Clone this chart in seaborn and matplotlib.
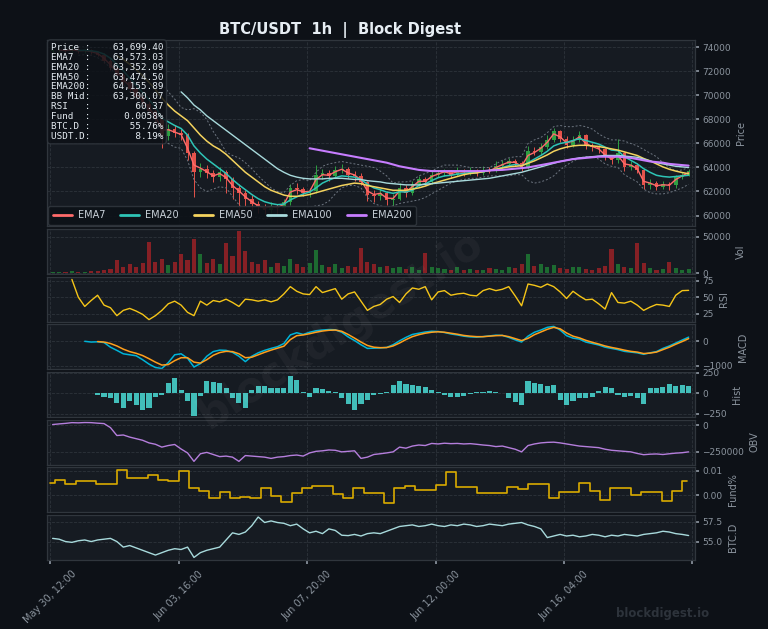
import numpy as np
import pandas as pd
import seaborn as sns
import matplotlib.pyplot as plt
from matplotlib.lines import Line2D

nan = np.nan

# one bar = 5 hourly candles, x in hours since May 30 12:00
close = [73750, 73820, 73700, 73850, 73680, 73760, 73600, 73400, 72900, 72300,
         71700, 71100, 70500, 69900, 69300, 68700, 68000, 66600, 67200, 66900,
         66700, 65200, 63600, 63900, 63500, 63200, 63600, 63000, 62300, 61900,
         61400, 61000, 60700, 60500, 60800, 60600, 61100, 62300, 62200, 61900,
         62000, 63400, 63500, 63300, 63800, 63900, 63400, 63300, 62800, 61700,
         61600, 61900, 61300, 61400, 62300, 61900, 62600, 63000, 62800, 63400,
         63500, 63700, 63400, 63700, 63600, 63700, 63500, 63800, 63700, 64100,
         64300, 64500, 64400, 64000, 65400, 65300, 65700, 66300, 67000, 66400,
         65900, 66300, 66700, 65800, 65700, 65500, 64900, 64600, 65200, 64000,
         64200, 63800, 62500, 62700, 62400, 62600, 62500, 63200, 63400, 63699.4]
first_open = 73700
high = [73900, 73980, 73900, 74000, 73920, 73880, 73850, 73700, 73500, 73000,
        72450, 71850, 71300, 70700, 70100, 69500, 68900, 68200, 67600, 67500,
        67200, 66900, 65400, 64400, 64200, 63800, 64000, 63800, 63200, 62600,
        62100, 61700, 61200, 61000, 61100, 61000, 61400, 62600, 62700, 62400,
        62300, 64200, 63900, 63800, 64100, 64300, 64000, 63700, 63500, 62900,
        62100, 62200, 62000, 61800, 62700, 62500, 62900, 63300, 63200, 63700,
        63800, 63900, 63800, 64000, 63900, 64000, 63900, 64100, 64000, 64500,
        64600, 64800, 64700, 64500, 65800, 65700, 66000, 66700, 67300, 67100,
        66600, 66600, 67000, 66800, 66000, 65900, 65600, 65000, 66400, 65300,
        64500, 64400, 63900, 63000, 62900, 62900, 62800, 63400, 63600, 63900]
low = [73550, 73650, 73580, 73620, 73560, 73560, 73450, 73250, 72700, 72100,
       71500, 70900, 70300, 69600, 69000, 68400, 67700, 65600, 66300, 66500,
       66300, 64600, 61500, 63200, 63100, 62800, 62900, 61900, 61400, 59800,
       60800, 60500, 60200, 60100, 60200, 60000, 60300, 60900, 61800, 61600,
       61500, 61900, 63000, 62900, 63100, 63500, 63100, 62900, 62500, 61200,
       61100, 61300, 60900, 60800, 61300, 61500, 61700, 62400, 62500, 62600,
       63200, 63300, 63100, 63300, 63300, 63400, 63300, 63400, 63500, 63600,
       63900, 64200, 64100, 63700, 63900, 65000, 65100, 65500, 66100, 66100,
       65600, 65700, 66100, 65500, 65400, 65200, 64600, 64300, 64400, 63700,
       63800, 63500, 62200, 62200, 62100, 62200, 62100, 62300, 63000, 63300]
volume = [1500, 2000, 1800, 2500, 1600, 2200, 3000, 2400, 4000, 6000,
          18000, 9000, 12000, 8000, 14000, 43000, 16000, 20000, 11000, 15000,
          26000, 18000, 47000, 27000, 14000, 19000, 12000, 42000, 24000, 58000,
          31000, 15000, 12000, 18000, 9000, 14000, 10000, 19000, 12000, 8000,
          14000, 32000, 11000, 9000, 13000, 7000, 10000, 8000, 35000, 16000,
          12000, 8000, 10000, 7000, 9000, 6000, 8000, 5000, 28000, 9000,
          7000, 6000, 5000, 8000, 4000, 6000, 5000, 4000, 7000, 6000,
          5000, 9000, 7000, 12000, 27000, 10000, 13000, 8000, 11000, 7000,
          6000, 8000, 9000, 6000, 5000, 7000, 10000, 33000, 12000, 9000,
          7000, 41000, 14000, 7000, 5000, 6000, 15000, 7000, 5000, 6000]

ema7 = [nan, 73790, 73740, 73800, 73720, 73740, 73650, 73500, 73100, 72550,
        71950, 71350, 70750, 70150, 69550, 68950, 68250, 67100, 67150, 66950,
        66750, 65600, 64200, 63950, 63650, 63300, 63500, 63150, 62500, 62050,
        61550, 61150, 60800, 60600, 60750, 60650, 60950, 61950, 62150, 61980,
        62000, 63000, 63400, 63350, 63650, 63850, 63550, 63380, 62950, 62050,
        61750, 61850, 61450, 61420, 62050, 61980, 62400, 62850, 62850, 63250,
        63450, 63650, 63480, 63650, 63620, 63680, 63550, 63720, 63700, 64000,
        64230, 64450, 64420, 64100, 65000, 65250, 65600, 66100, 66800, 66550,
        66050, 66200, 66550, 66000, 65750, 65550, 65050, 64700, 65000, 64300,
        64200, 63900, 62850, 62700, 62480, 62560, 62520, 63000, 63300, 63573.03]
ema20 = [nan, nan, nan, nan, 73750, 73760, 73720, 73640, 73450, 73100,
         72600, 72050, 71450, 70850, 70250, 69650, 69050, 68100, 67800, 67500,
         67250, 66700, 65800, 65200, 64700, 64300, 63900, 63500, 63000, 62550,
         62150, 61750, 61400, 61150, 61000, 60900, 60950, 61300, 61550, 61800,
         61950, 62300, 62700, 62950, 63150, 63300, 63250, 63200, 63000, 62600,
         62300, 62150, 61950, 61850, 61980, 61950, 62100, 62500, 62650, 62900,
         63150, 63300, 63350, 63450, 63500, 63580, 63580, 63650, 63750, 63850,
         64000, 64150, 64250, 64150, 64400, 64700, 65000, 65350, 65800, 66000,
         66100, 66250, 66400, 66250, 66100, 65950, 65700, 65450, 65400, 64900,
         64600, 64300, 63900, 63600, 63350, 63250, 63200, 63250, 63300, 63352.09]
ema50 = [nan] * 10 + [
         73300, 73000, 72600, 72150, 71650, 71100, 70500, 69800, 69200, 68700,
         68300, 67900, 67300, 66700, 66200, 65800, 65500, 65100, 64600, 64100,
         63600, 63200, 62800, 62400, 62100, 61900, 61700, 61600, 61600, 61650,
         61750, 61900, 62050, 62200, 62350, 62500, 62600, 62700, 62650, 62500,
         62400, 62300, 62200, 62100, 62100, 62100, 62200, 62300, 62450, 62650,
         62800, 62950, 63100, 63250, 63400, 63500, 63550, 63650, 63750, 63850,
         63950, 64050, 64100, 64150, 64350, 64550, 64800, 65050, 65350, 65550,
         65700, 65800, 65850, 65850, 65800, 65750, 65650, 65550, 65450, 65300,
         65150, 65000, 64750, 64550, 64300, 64050, 63850, 63700, 63580, 63474.50]
ema100 = [nan] * 20 + [
          70300, 69800, 69200, 68800, 68300, 67900, 67500, 67100, 66700, 66300,
          65900, 65500, 65100, 64700, 64300, 63900, 63600, 63350, 63200, 63100,
          63050, 63050, 63050, 63100, 63100, 63100, 63050, 63000, 63000, 62900,
          62850, 62800, 62700, 62650, 62600, 62550, 62550, 62550, 62600, 62650,
          62700, 62750, 62800, 62850, 62900, 62950, 63000, 63050, 63100, 63200,
          63300, 63400, 63500, 63600, 63750, 63900, 64050, 64200, 64350, 64500,
          64600, 64700, 64800, 64850, 64900, 64950, 65000, 65000, 65000, 64950,
          64900, 64850, 64700, 64550, 64400, 64300, 64200, 64100, 64050, 64000]
ema200 = [nan] * 40 + [
          65600, 65500, 65400, 65300, 65200, 65100, 65000, 64900, 64800, 64700,
          64600, 64500, 64400, 64250, 64100, 64000, 63900, 63800, 63750, 63700,
          63700, 63700, 63700, 63700, 63700, 63700, 63700, 63700, 63750, 63780,
          63800, 63850, 63900, 63950, 64000, 64100, 64200, 64300, 64400, 64500,
          64600, 64700, 64750, 64800, 64850, 64900, 64900, 64900, 64900, 64850,
          64800, 64700, 64600, 64500, 64450, 64400, 64300, 64250, 64200, 64155.89]
bb_up = [nan, nan, nan, nan, 74050, 74050, 74000, 74000, 74000, 73950,
         73900, 73800, 73600, 73200, 72700, 72100, 71500, 71000, 70300, 69700,
         69000, 68800, 68900, 68600, 68000, 67000, 66200, 65300, 65000, 64800,
         64400, 63900, 63300, 62800, 62300, 62000, 61900, 62500, 62900, 63000,
         62900, 63600, 64100, 64300, 64400, 64500, 64400, 64300, 64200, 64100,
         64000, 63700, 63300, 62700, 62800, 62800, 62900, 63300, 63500, 63700,
         64000, 64200, 64200, 64200, 64100, 64000, 64000, 64000, 64000, 64300,
         64600, 64800, 64900, 64900, 66000, 66300, 66500, 66900, 67400, 67500,
         67400, 67400, 67500, 67400, 67200, 66800, 66500, 66300, 66300, 66200,
         66000, 65800, 65500, 65200, 64900, 64400, 64000, 63700, 63800, 64000]
bb_lo = [nan, nan, nan, nan, 73350, 73400, 73350, 73150, 72800, 72300,
         71600, 70900, 70300, 69800, 69300, 68700, 68000, 66500, 66000, 65700,
         65600, 64600, 63000, 62300, 62000, 62200, 62400, 62300, 61600, 60900,
         60300, 59900, 59800, 59700, 59800, 60000, 60100, 60000, 60200, 60500,
         60700, 60800, 60900, 61200, 61800, 62300, 62500, 62500, 62300, 61500,
         61000, 60800, 60700, 60800, 61000, 61100, 61200, 61300, 61500, 61800,
         62100, 62400, 62700, 62900, 63000, 63100, 63100, 63200, 63300, 63300,
         63300, 63300, 63400, 63400, 62900, 62700, 62800, 63000, 63300, 63800,
         64200, 64500, 64800, 64900, 64900, 64700, 64300, 64100, 64000, 63400,
         63100, 62800, 62200, 61900, 61800, 61800, 61900, 62100, 62300, 62600]

rsi = [nan, nan, nan, 77, 50, 36, 45, 53, 38, 34,
       22, 30, 33, 29, 24, 16, 22, 30, 40, 44,
       38, 27, 22, 44, 38, 45, 43, 47, 42, 36,
       47, 46, 44, 46, 43, 46, 55, 66, 59, 55,
       54, 66, 57, 60, 63, 47, 55, 58, 44, 30,
       36, 39, 47, 51, 42, 55, 64, 62, 66, 46,
       58, 60, 53, 55, 56, 53, 52, 60, 63, 60,
       62, 66, 52, 37, 70, 68, 65, 70, 66, 58,
       48, 59, 52, 46, 47, 40, 32, 57, 42, 41,
       44, 38, 30, 35, 39, 38, 36, 53, 60, 60.37]
macd = [nan] * 5 + [-10, -40, -30, -60, -250,
        -380, -520, -560, -600, -760, -940, -1080, -1120, -880, -560,
        -520, -700, -1060, -920, -620, -430, -370, -380, -460, -620,
        -840, -620, -480, -380, -300, -230, -100, 250, 340, 270,
        360, 420, 450, 470, 460, 360, 170, 20, -150, -300,
        -290, -280, -260, -150, 10, 150, 270, 320, 370, 400,
        390, 350, 290, 250, 200, 170, 160, 180, 210, 240,
        230, 150, 50, -40, 200, 360, 450, 560, 600, 450,
        220, 120, 80, -40, -100, -160, -250, -300, -350, -420,
        -450, -480, -540, -480, -430, -300, -200, -80, 40, 160]
signal = [nan] * 7 + [-20, -40, -100,
          -200, -330, -430, -500, -590, -720, -860, -980, -960, -800,
          -680, -680, -860, -900, -760, -580, -470, -420, -430, -520,
          -680, -660, -560, -460, -370, -290, -210, 60, 220, 250,
          300, 360, 410, 440, 450, 400, 270, 120, -40, -180,
          -250, -270, -265, -200, -80, 60, 180, 260, 320, 360,
          380, 360, 320, 280, 230, 200, 180, 180, 200, 220,
          230, 180, 100, 20, 110, 260, 370, 480, 560, 500,
          330, 200, 130, 30, -50, -120, -200, -260, -310, -370,
          -420, -450, -510, -490, -450, -350, -250, -130, -20, 100]
hist = [nan] * 7 + [-20, -40, -60,
        -120, -180, -100, -150, -200, -180, -40, -20, 120, 190,
        40, -100, -280, -30, 150, 140, 120, 60, -60, -120,
        -180, 40, 90, 90, 70, 60, 60, 215, 160, 20,
        -40, 70, 50, 30, 10, -60, -130, -200, -130, -80,
        -20, -10, 20, 100, 150, 110, 100, 90, 80, 40,
        10, -20, -40, -40, -30, -10, 10, 20, 30, 20,
        0, -60, -110, -140, 150, 120, 110, 90, 100, -80,
        -140, -100, -60, -60, -40, 30, 80, 70, -20, -40,
        -30, -60, -130, 70, 60, 80, 110, 90, 100, 90]
obv = [9000, 15000, 20000, 27000, 25000, 28000, 27000, 22000, 18000, -20000,
       -95000, -90000, -110000, -125000, -140000, -165000, -178000, -205000, -190000, -180000,
       -223000, -260000, -340000, -268000, -255000, -275000, -295000, -290000, -300000, -340000,
       -285000, -290000, -295000, -300000, -312000, -300000, -295000, -285000, -280000, -290000,
       -260000, -245000, -240000, -232000, -235000, -250000, -245000, -240000, -312000, -300000,
       -275000, -268000, -260000, -250000, -205000, -215000, -195000, -185000, -190000, -170000,
       -175000, -168000, -172000, -170000, -175000, -172000, -178000, -185000, -190000, -200000,
       -195000, -210000, -225000, -250000, -190000, -175000, -165000, -160000, -158000, -165000,
       -175000, -185000, -195000, -200000, -205000, -210000, -225000, -235000, -240000, -245000,
       -250000, -265000, -277000, -272000, -270000, -275000, -268000, -262000, -258000, -250000]
btc_d = [55.4, 55.3, 55.0, 54.9, 55.1, 55.2, 55.0, 55.2, 55.3, 55.4,
         55.0, 54.3, 54.5, 54.2, 53.9, 53.6, 53.3, 53.6, 53.9, 54.1,
         54.0, 54.3, 53.0, 53.6, 53.9, 54.1, 54.3, 55.2, 56.1, 55.9,
         56.2, 57.0, 58.1, 57.4, 57.6, 57.4, 57.3, 57.0, 57.2, 56.6,
         56.1, 56.3, 56.0, 56.6, 56.4, 55.8, 55.75, 55.9, 55.7, 56.0,
         56.1, 56.0, 56.3, 56.6, 56.9, 57.0, 57.1, 56.9, 57.0, 57.2,
         57.0, 56.9, 57.1, 57.0, 57.2, 57.1, 56.9, 57.0, 57.2, 57.1,
         57.0, 57.2, 57.3, 57.4, 57.1, 56.9, 56.6, 55.5, 55.7, 55.9,
         55.7, 55.8, 55.6, 55.7, 55.9, 55.8, 55.6, 55.8, 55.7, 55.9,
         55.8, 55.7, 55.9, 56.0, 56.1, 56.3, 56.2, 56.0, 55.9, 55.76]

# funding rate, one value per 8h period
funding = [0.0050, 0.0065, 0.0046, 0.0060, 0.0060, 0.0046, 0.0046, 0.0104, 0.0070, 0.0070,
           0.0085, 0.0065, 0.0058, 0.0100, 0.0031, 0.0019, -0.0012, 0.0015, -0.0010, -0.0008,
           -0.0010, 0.0031, -0.0004, -0.0027, 0.0008, 0.0031, 0.0038, 0.0038, 0.0004, -0.0012,
           0.0031, 0.0008, 0.0008, -0.0031, 0.0031, 0.0038, 0.0020, 0.0020, 0.0042, 0.0096,
           0.0035, 0.0035, 0.0008, 0.0008, 0.0008, 0.0035, 0.0027, 0.0046, 0.0046, -0.0012,
           0.0012, 0.0012, 0.0050, 0.0019, -0.0019, 0.0031, 0.0031, 0.0000, 0.0012, 0.0012,
           -0.0023, 0.0019, 0.0058]

tick_pos = [0, 100, 200, 300, 400, 500]
tick_labels = ["May 30, 12:00", "Jun 03, 16:00", "Jun 07, 20:00",
               "Jun 12, 00:00", "Jun 16, 04:00", ""]

info_lines = [("Price", "63,699.40"), ("EMA7", "63,573.03"), ("EMA20", "63,352.09"),
              ("EMA50", "63,474.50"), ("EMA200", "64,155.89"), ("BB Mid", "63,300.07"),
              ("RSI", "60.37"), ("Fund", "0.0058%"), ("BTC.D", "55.76%"), ("USDT.D", "8.19%")]

# colours
BG = "#0d1117"
PANEL = "#161b22"
EDGE = "#30363d"
GRID = "#2d333b"
TXT = "#8b949e"
UP, DN = "#2ea043", "#e5534b"

sns.set_theme(style="darkgrid", rc={
    "figure.facecolor": BG, "axes.facecolor": PANEL, "axes.edgecolor": EDGE,
    "grid.color": GRID, "grid.linestyle": "--", "grid.linewidth": 0.6,
    "text.color": "#c9d1d9", "xtick.color": TXT, "ytick.color": TXT,
    "axes.labelcolor": TXT, "xtick.major.size": 3, "ytick.major.size": 3,
    "xtick.bottom": True, "ytick.right": True,
})
plt.rcParams["font.family"] = ["DejaVu Sans"]

df = pd.DataFrame({"x": np.arange(len(close)) * 5 + 2, "close": close, "high": high,
                   "low": low, "volume": volume, "ema7": ema7, "ema20": ema20,
                   "ema50": ema50, "ema100": ema100, "ema200": ema200,
                   "bb_up": bb_up, "bb_lo": bb_lo, "rsi": rsi, "macd": macd,
                   "signal": signal, "hist": hist, "obv": obv, "btc_d": btc_d})
df["open"] = [first_open] + close[:-1]
df["up"] = df["close"] >= df["open"]
fund_df = pd.DataFrame({"x": np.arange(len(funding)) * 8, "fund": funding})

fig = plt.figure(figsize=(7.68, 6.29), dpi=100)
gs = fig.add_gridspec(8, 1, height_ratios=[4.15, 1, 1, 1, 1, 1, 1, 1],
                      left=0.061, right=0.905, top=0.936, bottom=0.110, hspace=0.045)
axes = [fig.add_subplot(gs[0])]
for i in range(1, 8):
    axes.append(fig.add_subplot(gs[i], sharex=axes[0]))
ax_p, ax_v, ax_r, ax_m, ax_h, ax_o, ax_f, ax_b = axes

for ax in axes:
    ax.set_facecolor(PANEL)
    ax.grid(True, ls="--", lw=0.6, color=GRID)
    ax.yaxis.tick_right()
    ax.yaxis.set_label_position("right")
    for s in ax.spines.values():
        s.set_color(EDGE)
        s.set_linewidth(0.9)
    ax.tick_params(axis="y", labelsize=6.5, colors=TXT, length=3, pad=2)
    ax.tick_params(axis="x", labelbottom=False, length=0)

# --- price panel
col = np.where(df["up"], UP, DN)
ax_p.vlines(df["x"], df["low"], df["high"], colors=col, lw=0.7)
ax_p.bar(df["x"], (df["close"] - df["open"]).abs().clip(lower=40),
         bottom=df[["open", "close"]].min(axis=1), width=2.8, color=col, lw=0)
for c in ["bb_up", "bb_lo"]:
    sns.lineplot(data=df, x="x", y=c, ax=ax_p, color="#6e7681", lw=0.7,
                 dashes=False, linestyle=(0, (2, 2)))
ema_style = [("ema7", "EMA7", "#ff6b6b", 1.0), ("ema20", "EMA20", "#2ec4b6", 1.1),
             ("ema50", "EMA50", "#f4d35e", 1.1), ("ema100", "EMA100", "#a8dadc", 1.0),
             ("ema200", "EMA200", "#c77dff", 1.5)]
for c, lab, color, lw in ema_style:
    sns.lineplot(data=df, x="x", y=c, ax=ax_p, color=color, lw=lw)
handles = [Line2D([], [], color=color, lw=2) for _, _, color, _ in ema_style]
ax_p.legend(handles, [s[1] for s in ema_style], loc="lower left", ncol=5, fontsize=7,
            frameon=True, facecolor=BG, edgecolor=EDGE, framealpha=0.9,
            labelcolor="#c9d1d9", handlelength=2.0, handletextpad=0.6,
            columnspacing=1.5, borderpad=0.45, borderaxespad=0.15,
            bbox_to_anchor=(0.0, 0.0))
ax_p.set_ylim(59100, 74600)
ax_p.set_yticks(np.arange(60000, 74001, 2000))
ax_p.set_ylabel("Price", fontsize=7)

txt = "\n".join(f"{k:<6}:{v:>13}" for k, v in info_lines)
ax_p.text(0.006, 0.985, txt, transform=ax_p.transAxes, va="top", ha="left",
          family="DejaVu Sans Mono", fontsize=6.7, color="#e6edf3", linespacing=1.12,
          zorder=10, bbox=dict(boxstyle="round,pad=0.35", fc=BG, ec=EDGE, alpha=0.85))

# --- volume
vcol = np.where(df["up"], "#1f7a34", "#9b2226")
ax_v.bar(df["x"], df["volume"], width=3.2, color=vcol, lw=0, alpha=0.85)
ax_v.set_ylim(-1000, 60500)
ax_v.set_yticks([0, 50000])
ax_v.set_ylabel("Vol", fontsize=7)

# --- RSI
sns.lineplot(data=df, x="x", y="rsi", ax=ax_r, color="#f5c518", lw=1.0)
ax_r.set_ylim(13, 81)
ax_r.set_yticks([25, 50, 75])
ax_r.set_ylabel("RSI", fontsize=7)

# --- MACD
sns.lineplot(data=df, x="x", y="macd", ax=ax_m, color="#00b4d8", lw=1.1)
sns.lineplot(data=df, x="x", y="signal", ax=ax_m, color="#ff9f1c", lw=1.1)
ax_m.set_ylim(-1150, 680)
ax_m.set_yticks([-1000, 0])
ax_m.set_ylabel("MACD", fontsize=7)

# --- MACD histogram
hd = df.dropna(subset=["hist"])
ax_h.bar(hd["x"], hd["hist"], width=4.0, color="#48d1cc", lw=0, alpha=0.9)
ax_h.set_ylim(-290, 260)
ax_h.set_yticks([-250, 0, 250])
ax_h.set_ylabel("Hist", fontsize=7)

# --- OBV
sns.lineplot(data=df, x="x", y="obv", ax=ax_o, color="#b57edc", lw=1.0)
ax_o.set_ylim(-370000, 55000)
ax_o.set_yticks([-250000, 0])
ax_o.set_ylabel("OBV", fontsize=7)

# --- funding
sns.lineplot(data=fund_df, x="x", y="fund", ax=ax_f, color="#d9aa00", lw=1.2,
             drawstyle="steps-mid")
ax_f.set_ylim(-0.0069, 0.0115)
ax_f.set_yticks([0.0, 0.01])
ax_f.set_yticklabels(["0.00", "0.01"])
ax_f.set_ylabel("Fund%", fontsize=7)

# --- BTC dominance
sns.lineplot(data=df, x="x", y="btc_d", ax=ax_b, color="#a8dadc", lw=1.0)
ax_b.set_ylim(52.7, 58.35)
ax_b.set_yticks([55.0, 57.5])
ax_b.set_ylabel("BTC.D", fontsize=7)

for ax in axes:
    ax.set_xlabel("")
ax_b.set_xlim(-2.5, 502)
ax_b.set_xticks(tick_pos)
ax_b.set_xticklabels(tick_labels)
ax_b.tick_params(axis="x", labelbottom=True, length=3, labelsize=7, rotation=45, colors=TXT)

fig.text(0.443, 0.952, "BTC/USDT  1h  |  Block Digest", ha="center", va="center",
         fontsize=10.5, fontweight="bold", color="#e6edf3")
fig.text(0.444, 0.477, "blockdigest.io", ha="center", va="center", fontsize=30,
         fontweight="bold", color="white", alpha=0.045, rotation=33)
fig.text(0.863, 0.025, "blockdigest.io", ha="center", va="center", fontsize=8.5,
         fontweight="bold", color="#2d333b")

fig.savefig("out.png", dpi=100, facecolor=BG)
